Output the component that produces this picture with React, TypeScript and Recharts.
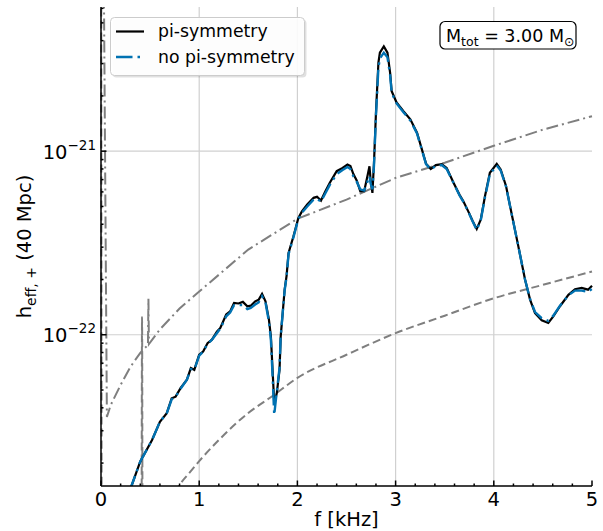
import { LineChart, Line, XAxis, YAxis, ReferenceLine, Legend } from 'recharts'

// [f (kHz), h_eff,+]
const piSymmetry: [number, number][] = [
  [0.29, 1.4e-23], [0.4, 2.04e-23], [0.52, 2.67e-23], [0.6, 3.36e-23], [0.67, 3.74e-23],
  [0.72, 4.51e-23], [0.76, 4.6e-23], [0.81, 5.12e-23], [0.875, 5.69e-23], [0.915, 6.58e-23],
  [0.95, 6.44e-23], [1.0, 7.78e-23], [1.04, 8.1e-23], [1.085, 9.0e-23], [1.13, 9.4e-23],
  [1.18, 1.04e-22], [1.215, 1.09e-22], [1.275, 1.29e-22], [1.315, 1.34e-22], [1.355, 1.49e-22],
  [1.4, 1.48e-22], [1.445, 1.51e-22], [1.49, 1.43e-22], [1.525, 1.44e-22], [1.57, 1.52e-22],
  [1.605, 1.55e-22], [1.64, 1.67e-22], [1.675, 1.52e-22], [1.71, 1.21e-22], [1.73, 9.8e-23],
  [1.747, 6.44e-23], [1.764, 4.24e-23], [1.79, 4.8e-23], [1.818, 6.44e-23], [1.83, 9.8e-23],
  [1.85, 1.31e-22], [1.87, 1.76e-22], [1.89, 2.1e-22], [1.91, 2.79e-22], [1.96, 3.44e-22],
  [2.01, 4.33e-22], [2.046, 4.7e-22], [2.1, 5.12e-22], [2.165, 5.57e-22], [2.2, 5.64e-22],
  [2.24, 5.38e-22], [2.285, 6.05e-22], [2.33, 6.73e-22], [2.4, 7.78e-22], [2.46, 8.1e-22],
  [2.51, 8.45e-22], [2.54, 8.3e-22], [2.57, 7.5e-22], [2.605, 6.91e-22], [2.64, 6.05e-22],
  [2.68, 6.05e-22], [2.713, 7.3e-22], [2.734, 8.28e-22], [2.748, 6.73e-22], [2.764, 5.93e-22],
  [2.78, 8.65e-22], [2.8, 1.62e-21], [2.825, 3.04e-21], [2.84, 3.44e-21], [2.88, 3.72e-21],
  [2.917, 3.44e-21], [2.944, 2.68e-21], [2.96, 2.12e-21], [3.01, 1.84e-21], [3.08, 1.65e-21],
  [3.15, 1.49e-21], [3.218, 1.26e-21], [3.31, 8.55e-22], [3.358, 8.0e-22], [3.41, 8.4e-22],
  [3.47, 8.5e-22], [3.52, 8.1e-22], [3.59, 6.73e-22], [3.65, 5.8e-22], [3.69, 5.34e-22],
  [3.74, 4.7e-22], [3.786, 4.15e-22], [3.826, 3.77e-22], [3.867, 4.24e-22], [3.91, 5.68e-22],
  [3.96, 7.62e-22], [4.03, 8.53e-22], [4.07, 7.95e-22], [4.125, 6.44e-22], [4.18, 4.61e-22],
  [4.25, 3.03e-22], [4.318, 2.0e-22], [4.37, 1.55e-22], [4.42, 1.31e-22], [4.488, 1.2e-22],
  [4.555, 1.16e-22], [4.606, 1.26e-22], [4.674, 1.43e-22], [4.76, 1.65e-22], [4.827, 1.77e-22],
  [4.895, 1.8e-22], [4.96, 1.76e-22], [5.0, 1.85e-22],
]

const noPiSymmetry: [number, number][] = [
  [0.29, 1.4e-23], [0.4, 2.04e-23], [0.52, 2.67e-23], [0.6, 3.36e-23], [0.67, 3.74e-23],
  [0.72, 4.45e-23], [0.76, 4.6e-23], [0.81, 5.08e-23], [0.875, 5.69e-23], [0.915, 6.5e-23],
  [0.95, 6.44e-23], [1.0, 7.7e-23], [1.04, 8.1e-23], [1.085, 8.9e-23], [1.13, 9.4e-23],
  [1.18, 1.02e-22], [1.215, 1.08e-22], [1.275, 1.26e-22], [1.315, 1.32e-22], [1.355, 1.45e-22],
  [1.4, 1.45e-22], [1.445, 1.45e-22], [1.49, 1.38e-22], [1.525, 1.4e-22], [1.57, 1.46e-22],
  [1.605, 1.5e-22], [1.64, 1.62e-22], [1.675, 1.5e-22], [1.71, 1.18e-22], [1.73, 9.4e-23],
  [1.747, 6.0e-23], [1.764, 3.66e-23], [1.79, 4.9e-23], [1.818, 6.6e-23], [1.83, 9.8e-23],
  [1.85, 1.31e-22], [1.87, 1.74e-22], [1.89, 2.08e-22], [1.91, 2.75e-22], [1.96, 3.4e-22],
  [2.01, 4.28e-22], [2.046, 4.62e-22], [2.1, 5.0e-22], [2.165, 5.45e-22], [2.2, 5.5e-22],
  [2.24, 5.3e-22], [2.285, 5.9e-22], [2.33, 6.55e-22], [2.4, 7.5e-22], [2.46, 7.9e-22],
  [2.51, 8.2e-22], [2.54, 8.0e-22], [2.57, 7.3e-22], [2.605, 6.8e-22], [2.64, 6.2e-22],
  [2.68, 6.1e-22], [2.713, 6.8e-22], [2.734, 7.3e-22], [2.748, 6.6e-22], [2.764, 6.2e-22],
  [2.78, 8.4e-22], [2.8, 1.55e-21], [2.825, 2.85e-21], [2.84, 3.2e-21], [2.88, 3.44e-21],
  [2.917, 3.25e-21], [2.944, 2.6e-21], [2.96, 2.08e-21], [3.01, 1.82e-21], [3.08, 1.63e-21],
  [3.15, 1.47e-21], [3.218, 1.25e-21], [3.31, 8.5e-22], [3.358, 7.95e-22], [3.41, 8.3e-22],
  [3.47, 8.4e-22], [3.52, 8.0e-22], [3.59, 6.7e-22], [3.65, 5.75e-22], [3.69, 5.3e-22],
  [3.74, 4.68e-22], [3.786, 4.12e-22], [3.826, 3.72e-22], [3.867, 4.2e-22], [3.91, 5.6e-22],
  [3.96, 7.5e-22], [4.03, 8.35e-22], [4.07, 7.85e-22], [4.125, 6.4e-22], [4.18, 4.6e-22],
  [4.25, 3.03e-22], [4.318, 2.0e-22], [4.37, 1.56e-22], [4.42, 1.33e-22], [4.488, 1.23e-22],
  [4.555, 1.19e-22], [4.606, 1.27e-22], [4.674, 1.44e-22], [4.76, 1.64e-22], [4.827, 1.74e-22],
  [4.895, 1.74e-22], [4.96, 1.71e-22], [5.0, 1.78e-22],
]

// detector curves
const upperNoise: [number, number][] = [
  [0.0, 1e-18], [0.015, 1e-19], [0.06, 3.57e-23], [0.1, 4.15e-23], [0.2, 5.33e-23],
  [0.3, 6.69e-23], [0.4, 7.97e-23], [0.478, 8.8e-23], [0.483, 1.57e-22], [0.488, 8.9e-23],
  [0.6, 1.07e-22], [0.8, 1.39e-22], [1.0, 1.72e-22], [1.5, 2.91e-22], [2.0, 4.28e-22],
  [2.5, 5.45e-22], [3.0, 7.15e-22], [3.5, 8.65e-22], [4.0, 1.07e-21], [4.5, 1.31e-21],
  [5.0, 1.55e-21],
]

const lowerNoise: [number, number][] = [
  [0.0, 1e-18], [0.01, 1e-24], [0.41, 1e-24], [0.418, 1.25e-22], [0.426, 1e-24],
  [0.7, 1.2e-23], [0.8, 1.52e-23], [0.9, 1.77e-23], [1.0, 2.05e-23], [1.2, 2.67e-23],
  [1.5, 3.75e-23], [1.75, 4.65e-23], [2.0, 5.82e-23], [2.5, 7.78e-23], [3.0, 1.02e-22],
  [3.5, 1.27e-22], [4.0, 1.58e-22], [4.5, 1.87e-22], [5.0, 2.21e-22],
]

const xMajor = [0, 1, 2, 3, 4, 5]
const xMinor = [0.2, 0.4, 0.6, 0.8, 1.2, 1.4, 1.6, 1.8, 2.2, 2.4, 2.6, 2.8, 3.2, 3.4, 3.6, 3.8, 4.2, 4.4, 4.6, 4.8]
const yMajor = [1e-22, 1e-21]
const yMinor = [
  2e-23, 3e-23, 4e-23, 5e-23, 6e-23, 7e-23, 8e-23, 9e-23,
  2e-22, 3e-22, 4e-22, 5e-22, 6e-22, 7e-22, 8e-22, 9e-22,
  2e-21, 3e-21, 4e-21, 5e-21, 6e-21,
]
const yDomain = [1.5e-23, 6.1e-21]

const FONT = '"DejaVu Sans", sans-serif'
const BLUE = '#0072b2'
const GRAY = '#7f7f7f'

const toRows = (pts: [number, number][]) => pts.map(([f, h]) => ({ f, h }))
const isYMajor = (v: number) => yMajor.some((m) => Math.abs(v - m) / m < 1e-6)

function BottomTick({ x, y, payload }: any) {
  const major = xMajor.includes(payload.value)
  return (
    <g>
      <line x1={x} x2={x} y1={y} y2={y - (major ? 5.5 : 2.5)} stroke="#000" strokeWidth={1.5} />
      {major && (
        <text x={x} y={y + 20} textAnchor="middle" fontSize={19.5} fontFamily={FONT} fill="#000">
          {payload.value}
        </text>
      )}
    </g>
  )
}

function TopTick({ x, y, payload }: any) {
  const major = xMajor.includes(payload.value)
  return <line x1={x} x2={x} y1={y} y2={y + (major ? 5.5 : 2.5)} stroke="#000" strokeWidth={1.5} />
}

function LeftTick({ x, y, payload }: any) {
  const major = isYMajor(payload.value)
  const exp = Math.round(Math.log10(payload.value))
  return (
    <g>
      <line x1={x} x2={x + (major ? 5.5 : 2.5)} y1={y} y2={y} stroke="#000" strokeWidth={1.5} />
      {major && (
        <text x={x - 5} y={y + 7.5} textAnchor="end" fontSize={19.5} fontFamily={FONT} fill="#000">
          10
          <tspan dy={-9} fontSize={13.5}>{'\u2212' + Math.abs(exp)}</tspan>
        </text>
      )}
    </g>
  )
}

function RightTick({ x, y, payload }: any) {
  const major = isYMajor(payload.value)
  return <line x1={x} x2={x - (major ? 5.5 : 2.5)} y1={y} y2={y} stroke="#000" strokeWidth={1.5} />
}

function LegendBox() {
  return (
    <svg width={198} height={62} style={{ display: 'block' }}>
      <rect x={2.5} y={2.5} width={194} height={58} rx={4} fill="rgba(0,0,0,0.12)" />
      <rect x={0.5} y={0.5} width={194} height={58} rx={4} fill="#fff" fillOpacity={0.92} stroke="#cccccc" />
      <line x1={6} x2={34} y1={14.5} y2={14.5} stroke="#000" strokeWidth={2.2} />
      <line x1={6} x2={34} y1={40} y2={40} stroke={BLUE} strokeWidth={2.4} strokeDasharray="16.5 5 2.5 5" />
      <text x={48} y={19.5} fontSize={17.3} fontFamily={FONT} fill="#000">pi-symmetry</text>
      <text x={48} y={46} fontSize={17.3} fontFamily={FONT} fill="#000">no pi-symmetry</text>
    </svg>
  )
}

export default function App() {
  return (
    <div style={{ position: 'absolute', left: 0, top: 0, width: 603, height: 531, background: '#fff' }}>
      <LineChart width={603} height={531} margin={{ top: 7, right: 11, bottom: 0, left: 0 }}>
        <XAxis
          type="number"
          dataKey="f"
          domain={[0, 5]}
          ticks={[...xMajor, ...xMinor]}
          interval={0}
          tickSize={0}
          tickMargin={0}
          tickLine={false}
          tick={BottomTick}
          height={45}
          axisLine={{ stroke: '#000', strokeWidth: 1.5 }}
          label={({ viewBox }: any) => (
            <text x={viewBox.x + viewBox.width / 2} y={viewBox.y + 40} textAnchor="middle" fontSize={19.5} fontFamily={FONT} fill="#000">
              f [kHz]
            </text>
          )}
        />
        <XAxis
          xAxisId="top"
          orientation="top"
          type="number"
          domain={[0, 5]}
          ticks={[...xMajor, ...xMinor]}
          interval={0}
          tickSize={0}
          tickMargin={0}
          tickLine={false}
          tick={TopTick}
          height={0}
          axisLine={{ stroke: '#000', strokeWidth: 1.5 }}
        />
        <YAxis
          type="number"
          scale="log"
          domain={yDomain}
          allowDataOverflow
          ticks={[...yMajor, ...yMinor]}
          interval={0}
          tickSize={0}
          tickMargin={0}
          tickLine={false}
          tick={LeftTick}
          width={101}
          axisLine={{ stroke: '#000', strokeWidth: 1.5 }}
          label={({ viewBox }: any) => {
            const cy = viewBox.y + viewBox.height / 2
            return (
              <text x={31} y={cy} transform={`rotate(-90, 31, ${cy})`} textAnchor="middle" fontSize={19.5} fontFamily={FONT} fill="#000">
                h
                <tspan fontSize={14} dy={5}>eff, +</tspan>
                <tspan fontSize={19.5} dy={-5}> (40 Mpc)</tspan>
              </text>
            )
          }}
        />
        <YAxis
          yAxisId="right"
          orientation="right"
          type="number"
          scale="log"
          domain={yDomain}
          allowDataOverflow
          ticks={[...yMajor, ...yMinor]}
          interval={0}
          tickSize={0}
          tickMargin={0}
          tickLine={false}
          tick={RightTick}
          width={0}
          axisLine={{ stroke: '#000', strokeWidth: 1.5 }}
        />
        {xMajor.slice(1, 5).map((v) => (
          <ReferenceLine key={'gx' + v} x={v} stroke="#d0d0d0" strokeWidth={1.2} />
        ))}
        {yMajor.map((v) => (
          <ReferenceLine key={'gy' + v} y={v} stroke="#d0d0d0" strokeWidth={1.2} />
        ))}
        <Line data={toRows(upperNoise)} dataKey="h" stroke={GRAY} strokeWidth={2} strokeDasharray="12 4 2 4" dot={false} activeDot={false} isAnimationActive={false} type="linear" />
        <Line data={toRows(lowerNoise)} dataKey="h" stroke={GRAY} strokeWidth={2} strokeDasharray="8 4" dot={false} activeDot={false} isAnimationActive={false} type="monotone" />
        <Line data={toRows(piSymmetry)} dataKey="h" name="pi-symmetry" stroke="#000" strokeWidth={2.2} dot={false} activeDot={false} isAnimationActive={false} type="linear" />
        <Line data={toRows(noPiSymmetry)} dataKey="h" name="no pi-symmetry" stroke={BLUE} strokeWidth={2.4} strokeDasharray="16.5 5 2.5 5" dot={false} activeDot={false} isAnimationActive={false} type="linear" />
        <Legend
          layout="vertical"
          align="center"
          verticalAlign="middle"
          wrapperStyle={{ left: 110, top: 17, width: 198, height: 62 }}
          content={() => <LegendBox />}
        />
      </LineChart>
      <svg width={142} height={32} style={{ position: 'absolute', left: 438, top: 19 }}>
        <rect x={2} y={2.5} width={136} height={27.5} rx={5} fill="#fff" stroke="#000" strokeWidth={1.2} />
        <text x={8} y={22.5} fontSize={17.5} fontFamily={FONT} fill="#000">
          M
          <tspan fontSize={12.5} dy={4}>tot</tspan>
          <tspan fontSize={17.5} dy={-4}> = 3.00 M</tspan>
          <tspan fontSize={12.5} dy={4}>{'\u2299'}</tspan>
        </text>
      </svg>
    </div>
  )
}
